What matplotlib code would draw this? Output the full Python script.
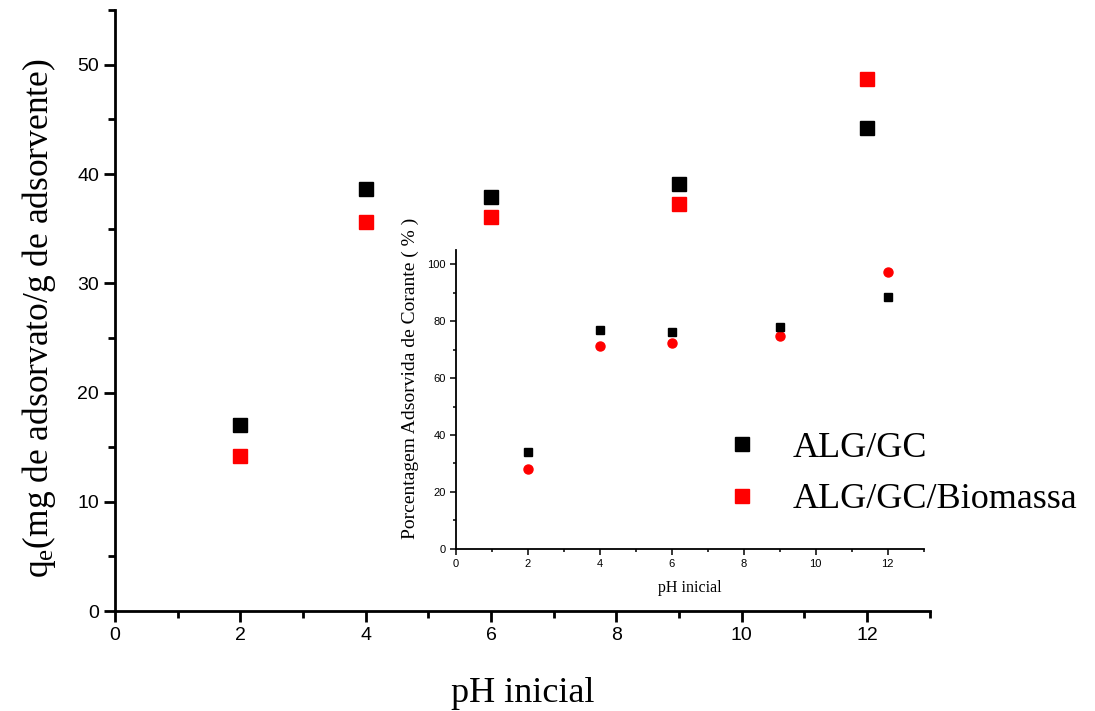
import matplotlib
matplotlib.use("Agg")
import matplotlib.pyplot as plt
from matplotlib.lines import Line2D
from matplotlib.ticker import MultipleLocator

plt.rcParams['mathtext.fontset'] = 'custom'
plt.rcParams['mathtext.rm'] = 'Liberation Serif'
plt.rcParams['mathtext.it'] = 'Liberation Serif:italic'

# Adsorption capacity q_e versus initial pH
ph = [2, 4, 6, 9, 12]
qe_alg_gc = [17.0, 38.6, 37.9, 39.1, 44.2]
qe_alg_gc_err = [0.6, 0.2, 0.2, 0.2, 0.2]
qe_alg_gc_bio = [14.2, 35.6, 36.1, 37.3, 48.7]

# Percentage of dye adsorbed versus initial pH (inset)
pct_alg_gc = [34.0, 77.0, 76.0, 78.1, 88.5]
pct_alg_gc_err = [1.0, 0.5, 0.5, 0.5, 0.5]
pct_alg_gc_bio = [28.2, 71.2, 72.2, 74.6, 97.3]

series_names = ['ALG/GC', 'ALG/GC/Biomassa']
series_colors = ['black', '#ff0000']

serif = 'Liberation Serif'
sans = 'Liberation Sans'

fig = plt.figure(figsize=(10.95, 7.11), dpi=100)
ax = fig.add_axes([0.105, 0.1406, 0.744, 0.845])

ax.errorbar(ph, qe_alg_gc, yerr=qe_alg_gc_err, fmt='s', color=series_colors[0],
            ms=10, capsize=5, elinewidth=1.2, capthick=1.2, zorder=3)
ax.plot(ph, qe_alg_gc_bio, 's', color=series_colors[1], ms=10, zorder=3)

ax.set_xlim(0, 13)
ax.set_ylim(0, 55)
ax.xaxis.set_major_locator(MultipleLocator(2))
ax.xaxis.set_minor_locator(MultipleLocator(1))
ax.yaxis.set_major_locator(MultipleLocator(10))
ax.yaxis.set_minor_locator(MultipleLocator(5))
for s in ('top', 'right'):
    ax.spines[s].set_visible(False)
for s in ('left', 'bottom'):
    ax.spines[s].set_linewidth(2)
ax.tick_params(which='major', direction='out', length=8, width=2, labelsize=14)
ax.tick_params(which='minor', direction='out', length=5, width=2)
for lab in ax.get_xticklabels() + ax.get_yticklabels():
    lab.set_fontfamily(sans)
ax.set_xlabel('pH inicial', fontfamily=serif, fontsize=26, labelpad=24)
ax.set_ylabel(r'q$_\mathregular{e}$(mg de adsorvato/g de adsorvente)', fontfamily=serif,
              fontsize=25.5)
ax.yaxis.set_label_coords(-0.07, 0.487)

# Legend above the inset, in figure coordinates (square markers only)
handles = [Line2D([], [], linestyle='none', marker='s', color=c, ms=9.5)
           for c in series_colors]
fig.legend(handles, series_names, loc='upper left', bbox_to_anchor=(0.661, 0.393),
           bbox_transform=fig.transFigure, frameon=False, borderpad=0, borderaxespad=0,
           prop={'family': serif, 'size': 26}, handletextpad=0.9,
           labelspacing=0.5, handlelength=1.0)

# Inset: percentage of dye adsorbed
ins = fig.add_axes([0.4164, 0.228, 0.427, 0.4205])
ins.errorbar(ph, pct_alg_gc, yerr=pct_alg_gc_err, fmt='s', color=series_colors[0], ms=6,
             capsize=2, elinewidth=0.8, capthick=0.8, zorder=3)
ins.plot(ph, pct_alg_gc_bio, 'o', color=series_colors[1], ms=6.5, zorder=3)
ins.set_xlim(0, 13)
ins.set_ylim(0, 105)
ins.xaxis.set_major_locator(MultipleLocator(2))
ins.xaxis.set_minor_locator(MultipleLocator(1))
ins.yaxis.set_major_locator(MultipleLocator(20))
ins.yaxis.set_minor_locator(MultipleLocator(10))
for s in ('top', 'right'):
    ins.spines[s].set_visible(False)
for s in ('left', 'bottom'):
    ins.spines[s].set_linewidth(1.3)
ins.tick_params(which='major', direction='out', length=4, width=1.1, labelsize=8)
ins.tick_params(which='minor', direction='out', length=2.5, width=1.1)
for lab in ins.get_xticklabels() + ins.get_yticklabels():
    lab.set_fontfamily(sans)
ins.set_xlabel('pH inicial', fontfamily=serif, fontsize=11.5, labelpad=8)
ins.set_ylabel('Porcentagem Adsorvida de Corante ( % )', fontfamily=serif, fontsize=14)
ins.yaxis.set_label_coords(-0.08, 0.57)

fig.savefig('out.png', dpi=100)
